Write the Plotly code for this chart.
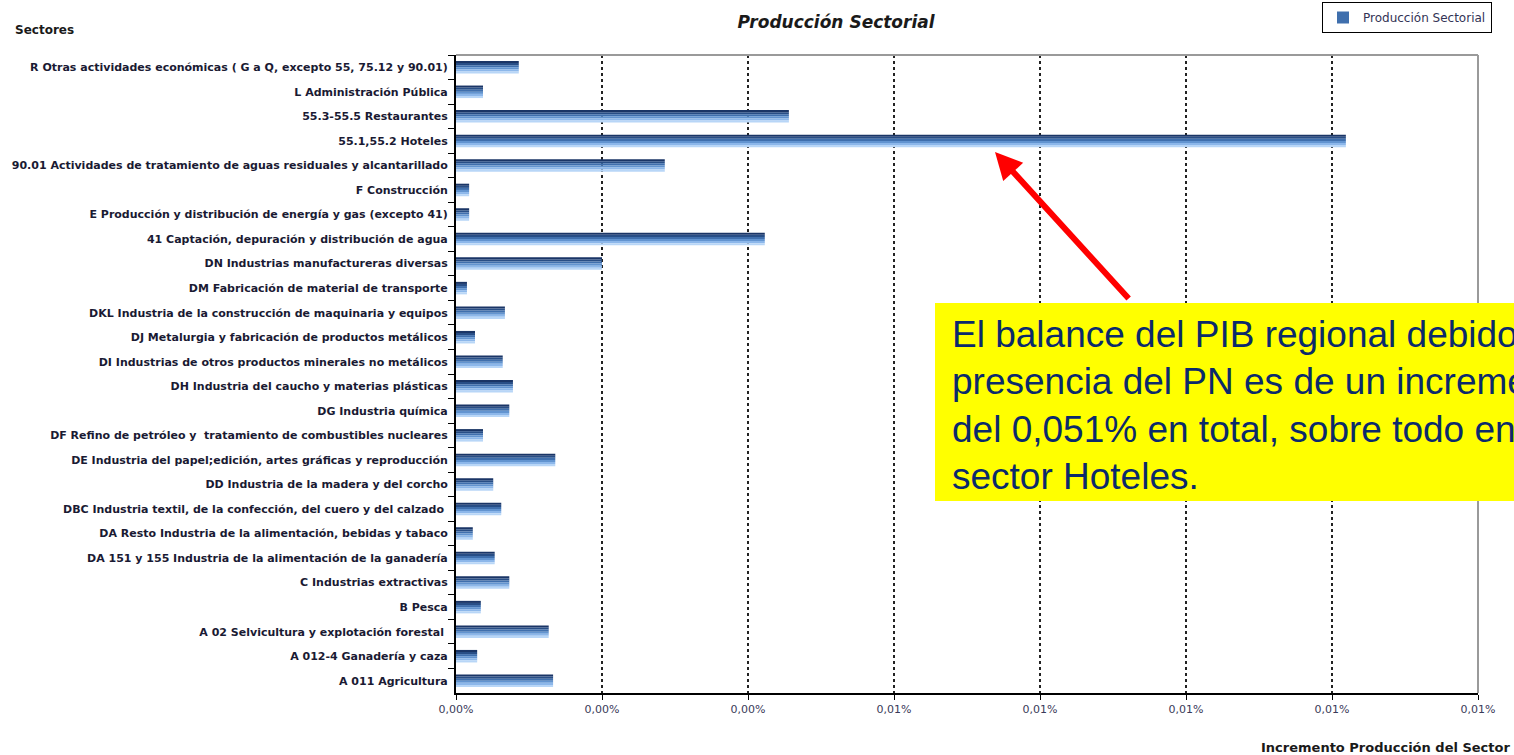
import plotly.graph_objects as go

# sectors, top to bottom as in the chart
sectores = [
    "R Otras actividades económicas ( G a Q, excepto 55, 75.12 y 90.01)",
    "L Administración Pública",
    "55.3-55.5 Restaurantes",
    "55.1,55.2 Hoteles",
    "90.01 Actividades de tratamiento de aguas residuales y alcantarillado",
    "F Construcción",
    "E Producción y distribución de energía y gas (excepto 41)",
    "41 Captación, depuración y distribución de agua",
    "DN Industrias manufactureras diversas",
    "DM Fabricación de material de transporte",
    "DKL Industria de la construcción de maquinaria y equipos",
    "DJ Metalurgia y fabricación de productos metálicos",
    "DI Industrias de otros productos minerales no metálicos",
    "DH Industria del caucho y materias plásticas",
    "DG Industria química",
    "DF Refino de petróleo y  tratamiento de combustibles nucleares",
    "DE Industria del papel;edición, artes gráficas y reproducción",
    "DD Industria de la madera y del corcho",
    "DBC Industria textil, de la confección, del cuero y del calzado ",
    "DA Resto Industria de la alimentación, bebidas y tabaco",
    "DA 151 y 155 Industria de la alimentación de la ganadería",
    "C Industrias extractivas",
    "B Pesca",
    "A 02 Selvicultura y explotación forestal ",
    "A 012-4 Ganadería y caza",
    "A 011 Agricultura",
]

# increment of sector production, in %
incremento = [
    0.00086, 0.00037, 0.00456, 0.01219, 0.00286, 0.00018, 0.00018, 0.00423,
    0.00200, 0.00015, 0.00067, 0.00026, 0.00064, 0.00078, 0.00073, 0.00037,
    0.00136, 0.00051, 0.00062, 0.00023, 0.00053, 0.00073, 0.00034, 0.00127,
    0.00029, 0.00133,
]

tick_vals = [0, 0.002, 0.004, 0.006, 0.008, 0.010, 0.012, 0.014]
tick_text = ["0,00%", "0,00%", "0,00%", "0,01%", "0,01%", "0,01%", "0,01%", "0,01%"]

nota = [
    "El balance del PIB regional debido a la",
    "presencia del PN es de un incremento",
    "del 0,051% en total, sobre todo en el",
    "sector Hoteles.",
]

FONT = "DejaVu Sans"

fig = go.Figure()

# fake the vertical gradient of the bars with thin stacked bands
bandas = ["#1a3566", "#284e86", "#3f6fad", "#6294d0", "#8cb7ea", "#b8d6f7"]
bw = 0.085
for i, c in enumerate(bandas):
    fig.add_trace(go.Bar(
        x=incremento, y=sectores, orientation="h",
        width=bw, offset=-0.255 + bw * i,
        marker=dict(color=c, line=dict(width=0)),
        name="Producción Sectorial", legendgroup="ps",
        showlegend=(i == 2), hoverinfo="x+y",
    ))

W, H = 1514, 755
L, R, T, B = 456, 1478, 55, 693


def px(x):
    return (x - L) / (R - L)


def py(y):
    return (B - y) / (B - T)


fig.update_layout(
    width=W, height=H,
    margin=dict(l=L, r=W - R, t=T, b=H - B, autoexpand=False),
    paper_bgcolor="white", plot_bgcolor="white",
    barmode="overlay",
    font=dict(family=FONT, color="#1a1a33"),
    title=dict(text="<b><i>Producción Sectorial</i></b>", x=836 / W, xanchor="center",
               y=1 - 22 / H, yanchor="middle",
               font=dict(family=FONT, size=17, color="#1a1a1a")),
    showlegend=True,
    legend=dict(x=px(1492), y=py(2), xanchor="right", yanchor="top",
                bordercolor="black", borderwidth=1, bgcolor="white",
                font=dict(size=12, color="#333355"), itemwidth=30,
                tracegroupgap=0),
)

fig.update_xaxes(
    range=[0, 0.014], tickvals=tick_vals, ticktext=tick_text,
    showgrid=True, gridcolor="#222222", griddash="dot", gridwidth=1.5,
    showline=True, linecolor="black", linewidth=2,
    ticks="outside", ticklen=5, tickcolor="black",
    tickfont=dict(size=11, color="#3a3a5a"), zeroline=False,
)
fig.update_yaxes(
    autorange="reversed", tickson="boundaries",
    showline=True, linecolor="black", linewidth=2,
    ticks="outside", ticklen=6, tickcolor="black", ticklabelstandoff=4,
    tickfont=dict(size=11, color="#1a1a33", weight="bold"), showgrid=False,
)

# gray frame on top and right
fig.add_shape(type="line", xref="paper", yref="paper", x0=0, x1=1, y0=1, y1=1,
              line=dict(color="#9a9a9a", width=2))
fig.add_shape(type="line", xref="paper", yref="paper", x0=1, x1=1, y0=0, y1=1,
              line=dict(color="#9a9a9a", width=2))

fig.add_annotation(text="<b>Sectores</b>", xref="paper", yref="paper",
                   x=px(13), y=py(30), xanchor="left", yanchor="middle",
                   showarrow=False, font=dict(size=12, color="#1a1a1a"))
fig.add_annotation(text="<b>Incremento Producción del Sector</b>", xref="paper", yref="paper",
                   x=px(1512), y=py(747), xanchor="right", yanchor="middle",
                   showarrow=False, font=dict(size=13, color="#1a1a1a"))

# yellow note box
fig.add_shape(type="rect", xref="paper", yref="paper",
              x0=px(935), x1=px(1530), y0=py(501), y1=py(303),
              fillcolor="#ffff00", line=dict(width=0), layer="above")
for k, linea in enumerate(nota):
    fig.add_annotation(text=linea, xref="paper", yref="paper",
                       x=px(950), y=py(334 + 47.5 * k), xanchor="left", yanchor="middle",
                       showarrow=False,
                       font=dict(family="Liberation Sans, Arial", size=37, color="#0b2a6b"))

# red arrow pointing to Hoteles
fig.add_annotation(text="", xref="paper", yref="paper", x=px(995), y=py(152),
                   ax=135, ay=148, showarrow=True, arrowhead=2, arrowsize=0.9,
                   arrowwidth=6, arrowcolor="#ff0000")

fig.write_html("out.html", config={"displayModeBar": False},
               post_script="document.body.style.margin='0';")
